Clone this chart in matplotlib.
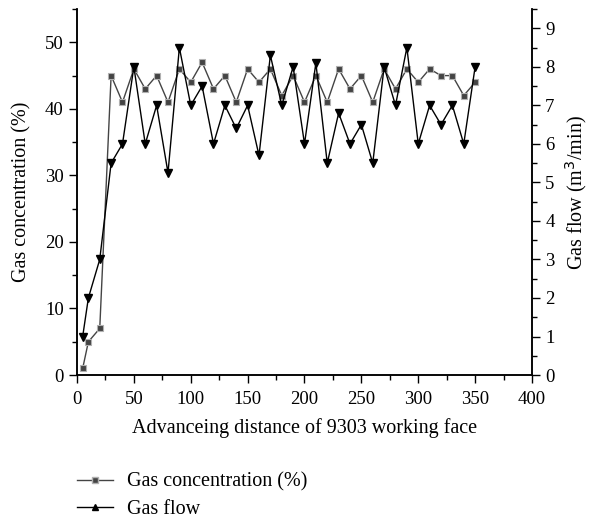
import matplotlib
matplotlib.use('Agg')
import matplotlib.pyplot as plt
from matplotlib.lines import Line2D
from matplotlib.ticker import MultipleLocator

# Dados
distancia = [5, 10, 20, 30, 40, 50, 60, 70, 80, 90, 100, 110, 120, 130, 140, 150, 160, 170,
             180, 190, 200, 210, 220, 230, 240, 250, 260, 270, 280, 290, 300, 310, 320, 330, 340, 350]
concentracao = [1, 5, 7, 45, 41, 46, 43, 45, 41, 46, 44, 47, 43, 45, 41, 46, 44, 46,
                42, 45, 41, 45, 41, 46, 43, 45, 41, 46, 43, 46, 44, 46, 45, 45, 42, 44]
vazao = [1.0, 2.0, 3.0, 5.5, 6.0, 8.0, 6.0, 7.0, 5.25, 8.5, 7.0, 7.5, 6.0, 7.0, 6.4, 7.0, 5.7, 8.3,
         7.0, 8.0, 6.0, 8.1, 5.5, 6.8, 6.0, 6.5, 5.5, 8.0, 7.0, 8.5, 6.0, 7.0, 6.5, 7.0, 6.0, 8.0]

plt.rcParams['font.family'] = ['Liberation Serif', 'DejaVu Serif']
plt.rcParams['font.size'] = 13.5

fig = plt.figure(figsize=(5.9, 5.18), dpi=100)
ax = fig.add_axes([0.1305, 0.276, 0.7712, 0.7065])
ax2 = ax.twinx()

ax.plot(distancia, concentracao, color='#444444', linewidth=1, marker='s', markersize=5,
        markerfacecolor='#444444', markeredgecolor='#b0b0b0', markeredgewidth=0.8, zorder=3)
ax2.plot(distancia, vazao, color='black', linewidth=1, marker='v', markersize=5.5,
         markerfacecolor='black', markeredgecolor='black')

ax.set_xlim(0, 400)
ax.set_ylim(0, 55)
ax2.set_ylim(0, 9.5)

ax.xaxis.set_major_locator(MultipleLocator(50))
ax.xaxis.set_minor_locator(MultipleLocator(25))
ax.yaxis.set_major_locator(MultipleLocator(10))
ax.yaxis.set_minor_locator(MultipleLocator(5))
ax2.yaxis.set_major_locator(MultipleLocator(1))
ax2.yaxis.set_minor_locator(MultipleLocator(0.5))

for a in (ax, ax2):
    a.spines['top'].set_visible(False)
    a.tick_params(which='major', length=5.5, width=1, direction='out', pad=4)
    a.tick_params(which='minor', length=3.5, width=1, direction='out')
    for s in a.spines.values():
        s.set_linewidth(1.1)
ax.tick_params(axis='x', which='major', pad=6)

ax.set_xlabel('Advanceing distance of 9303 working face', fontsize=14.5, labelpad=7)
ax.set_ylabel('Gas concentration (%)', fontsize=14.5, labelpad=10)
ax2.set_ylabel('Gas flow (m$^3$/min)', fontsize=14.5, labelpad=6)

# Legenda abaixo do gráfico
h1 = Line2D([], [], color='#444444', linewidth=1, marker='s', markersize=4.5,
            markerfacecolor='#444444', markeredgecolor='#b0b0b0')
h2 = Line2D([], [], color='black', linewidth=1, marker='^', markersize=5,
            markerfacecolor='black')
fig.legend([h1, h2], ['Gas concentration (%)', 'Gas flow'], loc='upper left',
           bbox_to_anchor=(0.1305, 0.088), frameon=False, handlelength=1.8,
           handletextpad=0.7, labelspacing=0.42, borderaxespad=0, borderpad=0,
           fontsize=14.5)

plt.savefig('out.png', dpi=100)
plt.close()
